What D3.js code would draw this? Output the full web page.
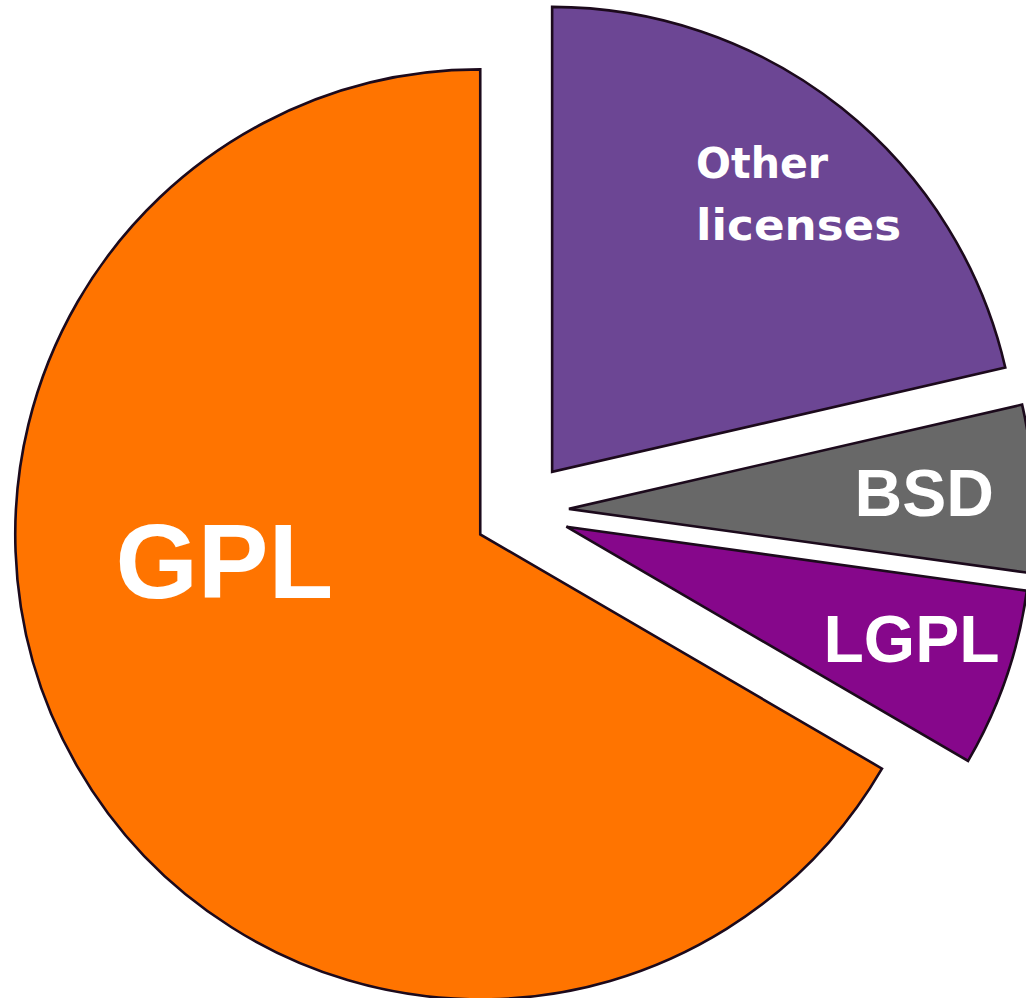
<!DOCTYPE html>
<html>
<head>
<meta charset="utf-8">
<script src="https://cdn.jsdelivr.net/npm/d3@7"></script>
<style>
  html, body { margin: 0; padding: 0; background: #ffffff; overflow: hidden; }
  svg { display: block; }
</style>
</head>
<body>
<svg id="chart" width="1026" height="998"></svg>
<script>
// ---- data ----
const categories = ["Other licenses", "BSD", "LGPL", "GPL"];
const shares     = [21.4, 5.8, 6.2, 66.6];          // percent of projects
const colors     = ["#6c4694", "#686868", "#86078b", "#ff7400"];
// label placement: angle (deg, clockwise from top) and radius fraction from slice centre
const labelAngles = [41.5, 87.3, 107.9, 264.4];
const labelRadii  = [0.80, 0.765, 0.78, 0.553];
const labelSizes  = [43, 66, 66, 106];
const labelFonts  = ["'DejaVu Sans', Verdana, sans-serif", "'Liberation Sans', Arial, sans-serif",
                     "'Liberation Sans', Arial, sans-serif", "'Liberation Sans', Arial, sans-serif"];
const lineWidths  = [[132, 205], null, null, null];
const explode     = [50, 48, 48, 47];

// ---- layout ----
const cx = 521, cy = 511, radius = 465;
const svg = d3.select("#chart");

const pie = d3.pie().sort(null).value(d => d.value);
const arcs = pie(categories.map((c, i) => ({ name: c, value: shares[i], i })));
const arc = d3.arc().innerRadius(0).outerRadius(radius);

const polar = (a, r) => [r * Math.sin(a), -r * Math.cos(a)];

const g = svg.selectAll("g.slice")
  .data(arcs)
  .join("g")
  .attr("class", "slice")
  .attr("transform", d => {
    const mid = (d.startAngle + d.endAngle) / 2;
    const [dx, dy] = polar(mid, explode[d.data.i]);
    return `translate(${cx + dx},${cy + dy})`;
  });

g.append("path")
  .attr("d", arc)
  .attr("fill", d => colors[d.data.i])
  .attr("stroke", "#1c0a1c")
  .attr("stroke-width", 2.6)
  .attr("stroke-linejoin", "miter");

g.each(function(d) {
  const i = d.data.i;
  const a = labelAngles[i] * Math.PI / 180;
  let [lx, ly] = polar(a, labelRadii[i] * radius);
  const words = d.data.name.split(" ");
  const fs = labelSizes[i];
  const lineH = 1.44;
  const widths = lineWidths[i];
  let anchor = "middle";
  if (widths) {               // multi-line block: left aligned
    anchor = "start";
    lx -= d3.max(widths) / 2;
  }
  const t = d3.select(this).append("text")
    .attr("x", lx).attr("y", ly)
    .attr("text-anchor", anchor)
    .attr("fill", "#ffffff")
    .attr("font-family", labelFonts[i])
    .attr("font-weight", "bold")
    .attr("font-size", fs);
  words.forEach((w, k) => {
    const first = 0.36 - (words.length - 1) / 2 * lineH;
    const ts = t.append("tspan")
      .attr("x", lx)
      .attr("dy", (k === 0 ? first : lineH) + "em")
      .text(w);
    if (widths) {
      ts.attr("textLength", widths[k]).attr("lengthAdjust", "spacingAndGlyphs");
    }
  });
});
</script>
</body>
</html>
